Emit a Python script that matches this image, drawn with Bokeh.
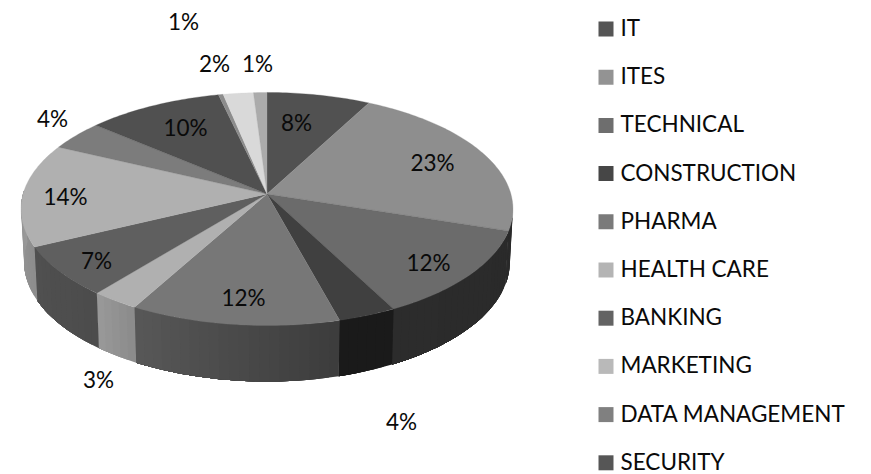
import math
from bokeh.plotting import figure
from bokeh.core.properties import value
from bokeh.embed import file_html
from bokeh.resources import INLINE

# data
slice_names = ["IT", "ITES", "TECHNICAL", "CONSTRUCTION", "PHARMA", "HEALTH CARE", "BANKING",
               "MARKETING", "DATA MANAGEMENT", "SECURITY", "OTHER A", "OTHER B", "OTHER C"]
slice_values = [7.7, 22.3, 12.4, 3.4, 12.2, 2.8, 7.0, 14.3, 4.15, 10.15, 0.35, 2.25, 1.0]
slice_labels = ["8%", "23%", "12%", "4%", "12%", "3%", "7%", "14%", "4%", "10%", "1%", "2%", "1%"]
legend_names = slice_names[:10]

# styles
top_colors = ["#515151", "#8e8e8e", "#6b6b6b", "#404040", "#777777", "#b0b0b0", "#5f5f5f",
              "#b0b0b0", "#7c7c7c", "#505050", "#8c8c8c", "#d9d9d9", "#ababab"]
legend_colors = ["#555555", "#939393", "#6e6e6e", "#464646", "#7a7a7a", "#b4b4b4", "#636363",
                 "#b9b9b9", "#808080", "#565656"]
# wall shade (start, end) along increasing angle
wall_shades = [None, (0x2a, 0x2a), (0x2a, 0x2c), (0x1a, 0x1a), (0x3c, 0x58), (0x8a, 0x9a), (0x4c, 0x50),
               (0x8c, 0x9a), None, None, None, None, None]
label_pos = [(296, 121.5), (432, 161.5), (428, 261.5), (401, 420.5), (243, 296.5), (98, 378.5), (96, 259.5),
             (65, 195.5), (52, 117.5), (185, 126.5), (183, 20.5), (214, 62.5), (257, 62.5)]
FONT = "Lato"
FS = "22.5px"

W, H = 871, 474
p = figure(width=W, height=H, x_range=(0, W), y_range=(H, 0), output_backend="svg",
           toolbar_location=None, min_border=0, outline_line_color=None)
p.axis.visible = False
p.grid.visible = False
p.background_fill_color = "white"

CX, Y0 = 266.5, 193.5
K, G = 0.1288, 114.6
F = 243.9
TOP_CY, TOP_RY = 208.5, 116.5
BOT_CY, BOT_RY, BOT_SX = 261.0, 120.0, 243 / 246


def rim(theta):
    X, Y = math.sin(theta), math.cos(theta)
    d = 1 + K * Y
    return CX + F * X / d, Y0 - G * Y / d


def low(theta):
    x, y = rim(theta)
    return CX + (x - CX) * BOT_SX, BOT_CY + (y - TOP_CY) * BOT_RY / TOP_RY


total = sum(slice_values)
edges = [0.0]
for v in slice_values:
    edges.append(edges[-1] + v / total * 2 * math.pi)


def grey(g):
    g = int(round(g))
    return "#%02x%02x%02x" % (g, g, g)


# walls, front half only; every strip runs on under the next one, so no seams show
for i, sh in enumerate(wall_shades):
    if sh is None:
        continue
    a, b = edges[i], edges[i + 1]
    a = max(a, math.radians(96))
    b = min(b, math.radians(272))
    if b <= a:
        continue
    n = max(2, int((b - a) / math.radians(2)))
    for j in range(n):
        ts = [a + (b - a) * k / n for k in range(j, n + 1)]
        top = [rim(t) for t in ts]
        bot = [low(t) for t in reversed(ts)]
        xs = [q[0] for q in top] + [q[0] for q in bot]
        ys = [q[1] for q in top] + [q[1] for q in bot]
        c = grey(sh[0] + (sh[1] - sh[0]) * (j + 0.5) / n)
        p.patch(xs, ys, fill_color=c, line_color=None)

# top face
for i in range(len(slice_values)):
    a, b = edges[i], edges[i + 1]
    n = max(2, int((b - a) / math.radians(1)))
    xs, ys = [CX], [Y0]
    for j in range(n + 1):
        x, y = rim(a + (b - a) * j / n)
        xs.append(x)
        ys.append(y)
    p.patch(xs, ys, fill_color=top_colors[i], line_color=top_colors[i], line_width=0.3)

# data labels
p.text([q[0] for q in label_pos], [q[1] for q in label_pos], text=slice_labels,
       text_font=value(FONT), text_font_size=value(FS), text_color="#0a0a0a",
       text_align="center", text_baseline="middle")

# legend
LEG_Y = [28.5 + 48.2 * i for i in range(len(legend_names))]
p.rect([605.5] * len(LEG_Y), LEG_Y, width=15, height=15, fill_color=legend_colors, line_color=None)
p.text([620] * len(LEG_Y), [y - 1.5 for y in LEG_Y], text=legend_names, text_font=value(FONT),
       text_font_size=value(FS), text_color="#0a0a0a", text_align="left", text_baseline="middle")

open("out.html", "w").write(file_html(p, INLINE))
